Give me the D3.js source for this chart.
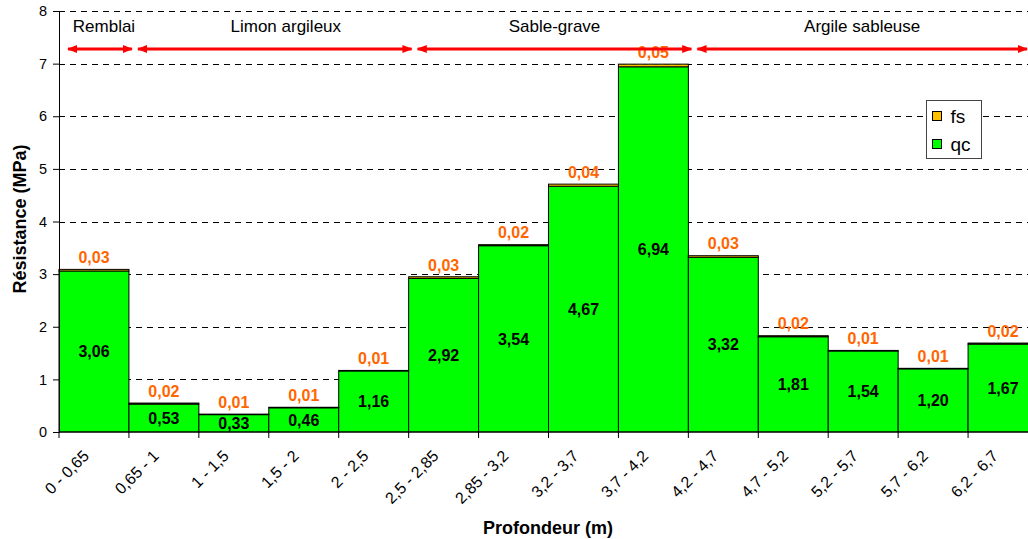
<!DOCTYPE html>
<html><head><meta charset="utf-8">
<script src="https://cdn.jsdelivr.net/npm/d3@7"></script>
<style>
html,body{margin:0;padding:0;background:#fff;overflow:hidden}
text{font-family:"Liberation Sans",Arial,sans-serif}
</style></head>
<body><svg id="c" width="1028" height="539"></svg>
<script>
const categories = ["0 - 0,65","0,65 - 1","1 - 1,5","1,5 - 2","2 - 2,5","2,5 - 2,85","2,85 - 3,2","3,2 - 3,7","3,7 - 4,2","4,2 - 4,7","4,7 - 5,2","5,2 - 5,7","5,7 - 6,2","6,2 - 6,7"];
const qc = [3.06,0.53,0.33,0.46,1.16,2.92,3.54,4.67,6.94,3.32,1.81,1.54,1.20,1.67];
const fs = [0.03,0.02,0.01,0.01,0.01,0.03,0.02,0.04,0.05,0.03,0.02,0.01,0.01,0.02];
const yTicks = [0,1,2,3,4,5,6,7,8];
const layerNames = ["Remblai","Limon argileux","Sable-grave","Argile sableuse"];
const layerFirst = [0,1,5,9];
const layerLast = [0,4,8,13];

const svg = d3.select("#c");
const pLeft = 59, pRight = 1038, pTop = 11, pBottom = 432;
const x = d3.scaleBand().domain(categories).range([pLeft,pRight]).padding(0);
const y = d3.scaleLinear().domain([0,8]).range([pBottom,pTop]);
const fmt = v => d3.format(".2f")(v).replace(".",",");

// grid
svg.append("g").selectAll("line").data(yTicks.filter(d=>d>0)).join("line")
  .attr("x1",pLeft).attr("x2",1028).attr("y1",d=>Math.round(y(d))+0.5).attr("y2",d=>Math.round(y(d))+0.5)
  .attr("stroke","#000").attr("stroke-dasharray","6,5").attr("stroke-width",1);

// bars
const g = svg.append("g");
g.selectAll("rect.qc").data(categories).join("rect").attr("class","qc")
  .attr("x",d=>x(d)).attr("width",x.bandwidth())
  .attr("y",(d,i)=>y(qc[i])).attr("height",(d,i)=>y(0)-y(qc[i]))
  .attr("fill","#00ff00").attr("stroke","#000").attr("stroke-width",1);
g.selectAll("rect.fs").data(categories).join("rect").attr("class","fs")
  .attr("x",d=>x(d)).attr("width",x.bandwidth())
  .attr("y",(d,i)=>y(qc[i]+fs[i])).attr("height",(d,i)=>y(qc[i])-y(qc[i]+fs[i]))
  .attr("fill","#ffc000").attr("stroke","#000").attr("stroke-width",1);

// qc labels
g.selectAll("text.qcl").data(categories).join("text").attr("class","qcl")
  .attr("x",d=>x(d)+x.bandwidth()/2).attr("y",(d,i)=>(y(0)+y(qc[i]))/2)
  .attr("dy","0.36em").attr("text-anchor","middle")
  .attr("font-size",16).attr("font-weight","bold").attr("fill","#000")
  .text((d,i)=>fmt(qc[i]));
// fs labels
g.selectAll("text.fsl").data(categories).join("text").attr("class","fsl")
  .attr("x",d=>x(d)+x.bandwidth()/2).attr("y",(d,i)=>y(qc[i]+fs[i])-12)
  .attr("dy","0.36em").attr("text-anchor","middle")
  .attr("font-size",16).attr("font-weight","bold").attr("fill","#ff6600")
  .text((d,i)=>fmt(fs[i]));

// axes
const yAxis = svg.append("g").attr("transform",`translate(${pLeft},0)`)
  .call(d3.axisLeft(y).tickValues(yTicks).tickSize(6).tickPadding(6).tickFormat(d3.format("d")));
yAxis.select(".domain").attr("stroke","#000");
yAxis.selectAll("text").attr("font-size",14.5).attr("font-family","Liberation Sans, Arial").attr("fill","#000");

const xAxis = svg.append("g").attr("transform",`translate(0,${pBottom})`);
xAxis.append("line").attr("x1",pLeft).attr("x2",1028).attr("y1",0).attr("y2",0).attr("stroke","#000");
xAxis.selectAll("line.tk").data(categories.concat(["end"])).join("line").attr("class","tk")
  .attr("x1",(d,i)=>pLeft+i*x.bandwidth()).attr("x2",(d,i)=>pLeft+i*x.bandwidth())
  .attr("y1",0).attr("y2",6).attr("stroke","#000");
xAxis.selectAll("text").data(categories).join("text")
  .attr("transform",d=>`translate(${x(d)+x.bandwidth()/2-8},${21}) rotate(-45)`)
  .attr("text-anchor","end").attr("dy","0.35em")
  .attr("font-size",16).attr("fill","#000").text(d=>d);

// titles
svg.append("text").attr("x",548).attr("y",534).attr("text-anchor","middle")
  .attr("font-size",18).attr("font-weight","bold").text("Profondeur (m)");
svg.append("text").attr("transform","translate(26,219) rotate(-90)").attr("text-anchor","middle")
  .attr("font-size",18).attr("font-weight","bold").text("Résistance (MPa)");

// legend
const lg = svg.append("g").attr("transform","translate(926.5,100.5)");
lg.append("rect").attr("width",55).attr("height",58).attr("fill","#fff").attr("stroke","#444");
[["fs","#ffc000"],["qc","#00ff00"]].forEach((p,i)=>{
  lg.append("rect").attr("x",6).attr("y",11+i*28).attr("width",9).attr("height",9).attr("fill",p[1]).attr("stroke","#000");
  lg.append("text").attr("x",24).attr("y",16+i*28).attr("dy","0.36em").attr("font-size",19).text(p[0]);
});

// layers
const defs = svg.append("defs");
defs.append("marker").attr("id","ah").attr("viewBox","0 0 10 10").attr("refX",9).attr("refY",5)
  .attr("markerWidth",3.4).attr("markerHeight",3.4).attr("orient","auto-start-reverse")
  .append("path").attr("d","M0,1 L10,5 L0,9 z").attr("fill","#ff0000");
const la = svg.append("g");
layerNames.forEach((n,i)=>{
  const x0 = x(categories[layerFirst[i]]) + 9;
  const x1 = Math.min(x(categories[layerLast[i]]) + x.bandwidth() + 3, 1027);
  la.append("line").attr("x1",x0).attr("x2",x1).attr("y1",49).attr("y2",49)
    .attr("stroke","#ff0000").attr("stroke-width",3)
    .attr("marker-start","url(#ah)").attr("marker-end","url(#ah)");
  la.append("text").attr("x",(x0+x1)/2 + (i===1?11:(i===0?4:0))).attr("y",32)
    .attr("text-anchor","middle").attr("font-size",17).attr("fill","#000").text(n);
});
</script></body></html>
